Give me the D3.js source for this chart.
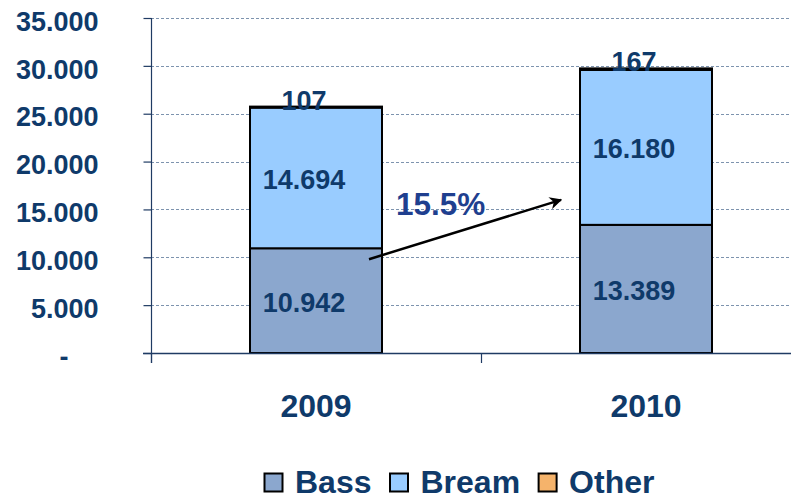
<!DOCTYPE html>
<html>
<head>
<meta charset="utf-8">
<script src="https://cdn.jsdelivr.net/npm/d3@7"></script>
<style>
  html, body { margin: 0; padding: 0; background: #fff; }
  svg { display: block; font-family: Arial, "Liberation Sans", sans-serif; font-weight: bold; }
</style>
</head>
<body>
<svg id="chart" width="791" height="499"></svg>
<script>
const categories = ["2009", "2010"];
const seriesNames = ["Bass", "Bream", "Other"];
const bass  = [10942, 13389];
const bream = [14694, 16180];
const other = [107, 167];
const yTicks = [0, 5000, 10000, 15000, 20000, 25000, 30000, 35000];
const yTickLabels = ["-", "5.000", "10.000", "15.000", "20.000", "25.000", "30.000", "35.000"];
const colors = ["#8BA7CE", "#99CCFF", "#F5B36B"];

const navy = "#0F3A6A";
const svg = d3.select("#chart");

const plot = { left: 151, right: 811, top: 18, bottom: 353 };

const x = d3.scaleBand().domain(categories).range([plot.left, plot.right])
  .paddingInner(0.6).paddingOuter(0.3);
const y = d3.scaleLinear().domain([0, 35000]).range([plot.bottom, plot.top]);

const fmt = v => d3.format(",.0f")(v).replace(/,/g, ".");

// gridlines
svg.append("g").selectAll("line").data(yTicks.filter(d => d > 0)).join("line")
  .attr("x1", plot.left).attr("x2", 791)
  .attr("y1", d => Math.round(y(d)) + 0.5).attr("y2", d => Math.round(y(d)) + 0.5)
  .attr("stroke", "#7D93AE").attr("stroke-width", 1).attr("stroke-dasharray", "3,2");

// y axis
const yAxis = d3.axisLeft(y).tickValues(yTicks).tickSize(8)
  .tickFormat((d, i) => yTickLabels[i]);
const gy = svg.append("g").attr("transform", `translate(${plot.left + 0.5},0)`).call(yAxis);
gy.select(".domain").remove();
gy.selectAll(".tick line").attr("stroke", "#1F3B63").attr("stroke-width", 1.2);
gy.selectAll(".tick text").attr("x", d => d === 0 ? -83 : -53).attr("dy", "0.45em")
  .attr("fill", navy).attr("font-size", 27).attr("font-weight", "bold")
  .attr("font-family", "Arial, 'Liberation Sans', sans-serif");
svg.append("line").attr("x1", plot.left + 0.5).attr("x2", plot.left + 0.5)
  .attr("y1", plot.top).attr("y2", plot.bottom + 10)
  .attr("stroke", "#1F3B63").attr("stroke-width", 1.2);

// stacked data
const rows = categories.map((c, i) => ({ cat: c, Bass: bass[i], Bream: bream[i], Other: other[i] }));
const stack = d3.stack().keys(seriesNames)(rows);

const gBars = svg.append("g");
stack.forEach((layer, li) => {
  gBars.append("g").selectAll("rect").data(layer).join("rect")
    .attr("x", d => x(d.data.cat))
    .attr("width", x.bandwidth())
    .attr("y", d => y(d[1]))
    .attr("height", d => y(d[0]) - y(d[1]))
    .attr("fill", colors[li])
    .attr("stroke", "#000").attr("stroke-width", 2);
});

// x axis line & ticks
svg.append("line").attr("x1", plot.left - 8).attr("x2", 791)
  .attr("y1", plot.bottom + 0.5).attr("y2", plot.bottom + 0.5)
  .attr("stroke", "#1F3B63").attr("stroke-width", 1.5);
const boundaries = [plot.left, plot.left + x.step(), plot.right];
svg.append("g").selectAll("line").data(boundaries).join("line")
  .attr("x1", d => d + 0.5).attr("x2", d => d + 0.5)
  .attr("y1", plot.bottom).attr("y2", plot.bottom + 10)
  .attr("stroke", "#1F3B63").attr("stroke-width", 1.2);

// x labels
svg.append("g").selectAll("text").data(categories).join("text")
  .attr("x", d => x(d) + x.bandwidth() / 2).attr("y", 417)
  .attr("text-anchor", "middle").attr("fill", navy).attr("font-size", 32)
  .text(d => d);

// value labels
stack.forEach((layer, li) => {
  svg.append("g").selectAll("text").data(layer).join("text")
    .attr("x", d => x(d.data.cat) + x.bandwidth() / 2 - 12)
    .attr("y", d => li === 2 ? y(d[1]) + 3 : (y(d[0]) + y(d[1])) / 2 + 11)
    .attr("text-anchor", "middle").attr("fill", navy).attr("font-size", 27)
    .text(d => fmt(d[1] - d[0]));
});

// growth arrow
const totals = rows.map(r => r.Bass + r.Bream + r.Other);
const growth = totals[1] / totals[0] - 1;
svg.append("defs").append("marker")
  .attr("id", "arrowhead").attr("viewBox", "0 0 10 10")
  .attr("refX", 9).attr("refY", 5).attr("markerWidth", 5).attr("markerHeight", 5)
  .attr("orient", "auto")
  .append("path").attr("d", "M0,0 L10,5 L0,10 L3,5 Z").attr("fill", "#000");
const ax1 = x("2009") + x.bandwidth() - 13, ay1 = y(9800);
const ax2 = x("2010") - 19, ay2 = y(16000);
svg.append("line").attr("x1", ax1).attr("y1", ay1).attr("x2", ax2).attr("y2", ay2)
  .attr("stroke", "#000").attr("stroke-width", 2.5).attr("marker-end", "url(#arrowhead)");
svg.append("text").attr("x", x("2009") + x.bandwidth() + 14).attr("y", 215)
  .attr("fill", "#1F3F8F").attr("font-size", 31.5)
  .text(d3.format(".1f")(growth * 100) + "%");

// legend
const leg = svg.append("g");
let lx = 264;
seriesNames.forEach((name, i) => {
  leg.append("rect").attr("x", lx + 0.5).attr("y", 473.5).attr("width", 18).attr("height", 18)
    .attr("fill", colors[i]).attr("stroke", "#000").attr("stroke-width", 2);
  const t = leg.append("text").attr("x", lx + 31).attr("y", 493)
    .attr("fill", navy).attr("font-size", 32).text(name);
  lx = lx + 31 + t.node().getComputedTextLength() + 18;
});
</script>
</body>
</html>
